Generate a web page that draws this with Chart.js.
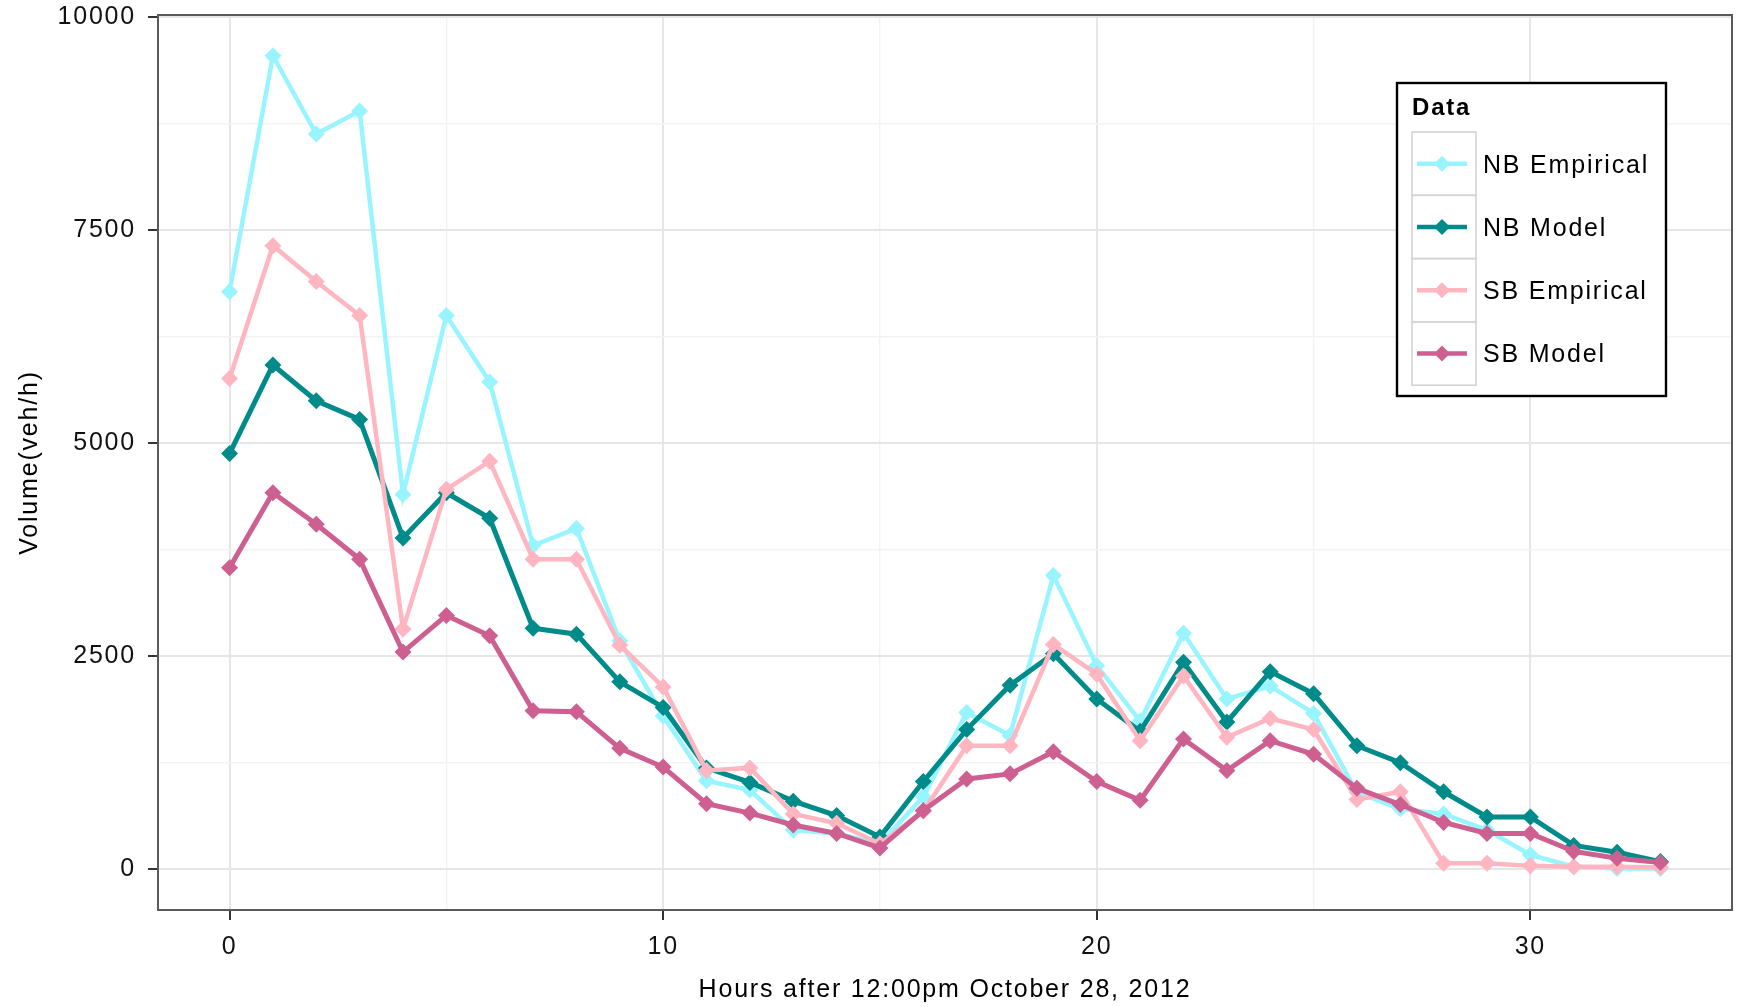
<!DOCTYPE html>
<html>
<head>
<meta charset="utf-8">
<script src="https://cdn.jsdelivr.net/npm/chart.js@4.4.1/dist/chart.umd.min.js"></script>
<style>
  html, body { margin: 0; padding: 0; background: #fff; }
  #wrap { width: 1744px; height: 1007px; }
</style>
</head>
<body>
<div id="wrap"><canvas id="chart" width="1744" height="1007"></canvas></div>
<script>
const hours = [0, 1, 2, 3, 4, 5, 6, 7, 8, 9, 10, 11, 12, 13, 14, 15, 16, 17, 18, 19, 20, 21, 22, 23, 24, 25, 26, 27, 28, 29, 30, 31, 32, 33];

const nbEmpirical = [6780, 9550, 8630, 8900, 4400, 6500, 5720, 3800, 4000, 2680, 1800, 1040, 930, 460, 420, 300, 850, 1840, 1570, 3450, 2390, 1740, 2770, 2000, 2150, 1830, 900, 710, 650, 460, 170, 30, 10, 10];
const nbModel = [4880, 5920, 5500, 5280, 3890, 4420, 4120, 2830, 2760, 2200, 1900, 1190, 1020, 800, 630, 380, 1030, 1640, 2160, 2530, 2000, 1620, 2430, 1730, 2320, 2060, 1450, 1250, 910, 615, 615, 280, 200, 90];
const sbEmpirical = [5760, 7320, 6900, 6500, 2820, 4460, 4790, 3640, 3640, 2630, 2140, 1160, 1190, 650, 540, 300, 680, 1450, 1450, 2640, 2290, 1510, 2270, 1550, 1770, 1640, 820, 910, 70, 70, 40, 30, 30, 20];
const sbModel = [3540, 4420, 4050, 3640, 2550, 2980, 2740, 1860, 1850, 1420, 1200, 770, 660, 520, 420, 250, 690, 1060, 1120, 1380, 1030, 810, 1530, 1160, 1510, 1350, 950, 760, 550, 420, 420, 210, 130, 80];

const seriesNames = ["NB Empirical", "NB Model", "SB Empirical", "SB Model"];
const seriesColors = ["#98F5FF", "#008B8B", "#FFB6C1", "#CD6090"];

const xGridValues = [0, 5, 10, 15, 20, 25, 30];
const xLabelValues = [0, 10, 20, 30];
const yGridValues = [0, 1250, 2500, 3750, 5000, 6250, 7500, 8750, 10000];
const yLabelValues = [0, 2500, 5000, 7500, 10000];

const FONT = "Liberation Sans, Arial, sans-serif";
const SPACING = "1.8px";

function points(values) {
  return hours.map((h, i) => ({ x: h, y: values[i] }));
}

const allSeries = [nbEmpirical, nbModel, sbEmpirical, sbModel];

const datasets = allSeries.map((vals, i) => ({
  label: seriesNames[i],
  data: points(vals),
  borderColor: seriesColors[i],
  backgroundColor: seriesColors[i],
  borderWidth: i % 2 ? 5 : 4.5,
  pointStyle: "rectRot",
  pointRadius: 8.5,
  pointBorderWidth: 0,
  pointBackgroundColor: seriesColors[i],
  tension: 0,
  order: 4 - i, // later series on top, like ggplot
}));

// letter spacing for the wide R-style text
const spacing = {
  id: "spacing",
  beforeDraw(chart) {
    chart.ctx.letterSpacing = SPACING;
  },
};

// panel border all round
const panelBorder = {
  id: "panelBorder",
  afterDatasetsDraw(chart) {
    const a = chart.chartArea;
    const ctx = chart.ctx;
    ctx.save();
    ctx.strokeStyle = "#5a5a5a";
    ctx.lineWidth = 2;
    ctx.strokeRect(a.left, a.top, a.right - a.left, a.bottom - a.top);
    ctx.restore();
  },
};

// boxed legend like ggplot theme_bw
const boxLegend = {
  id: "boxLegend",
  afterDraw(chart) {
    const ctx = chart.ctx;
    ctx.save();
    ctx.letterSpacing = SPACING;
    ctx.fillStyle = "#fff";
    ctx.fillRect(1397, 83, 269, 313);
    ctx.strokeStyle = "#000";
    ctx.lineWidth = 2.4;
    ctx.strokeRect(1397, 83, 269, 313);

    ctx.fillStyle = "#000";
    ctx.font = "bold 24px " + FONT;
    ctx.textBaseline = "middle";
    ctx.fillText("Data", 1412, 108);

    const rowH = 63.3;
    chart.data.datasets.forEach((ds, i) => {
      const top = 132 + i * rowH;
      const mid = top + rowH / 2;
      ctx.strokeStyle = "#d4d4d4";
      ctx.lineWidth = 1.6;
      ctx.strokeRect(1412, top, 64, rowH);

      ctx.strokeStyle = ds.borderColor;
      ctx.lineWidth = 4.5;
      ctx.beginPath();
      ctx.moveTo(1417, mid);
      ctx.lineTo(1467, mid);
      ctx.stroke();

      ctx.fillStyle = ds.borderColor;
      ctx.beginPath();
      ctx.moveTo(1442 - 8, mid);
      ctx.lineTo(1442, mid - 8);
      ctx.lineTo(1442 + 8, mid);
      ctx.lineTo(1442, mid + 8);
      ctx.closePath();
      ctx.fill();

      ctx.fillStyle = "#000";
      ctx.font = "25px " + FONT;
      ctx.fillText(ds.label, 1483, mid + 2);
    });
    ctx.restore();
  },
};

new Chart(document.getElementById("chart"), {
  type: "line",
  data: { datasets },
  plugins: [spacing, panelBorder, boxLegend],
  options: {
    responsive: false,
    animation: false,
    devicePixelRatio: 1,
    layout: { padding: { top: 15, right: 12, left: 0, bottom: 0 } },
    plugins: {
      legend: { display: false },
      tooltip: { enabled: false },
    },
    scales: {
      x: {
        type: "linear",
        min: -1.65,
        max: 34.65,
        afterBuildTicks: (scale) => {
          scale.ticks = xGridValues.map((v) => ({ value: v }));
        },
        afterFit: (scale) => {
          scale.height = 97;
        },
        border: { display: false },
        grid: {
          color: (c) => (xLabelValues.includes(c.tick.value) ? "#e6e6e6" : "#f3f3f3"),
          lineWidth: (c) => (xLabelValues.includes(c.tick.value) ? 2 : 1.4),
          tickColor: (c) => (xLabelValues.includes(c.tick.value) ? "#333" : "rgba(0,0,0,0)"),
          tickWidth: 2,
          tickLength: 10,
        },
        ticks: {
          autoSkip: false,
          maxRotation: 0,
          padding: 12,
          color: "#111",
          font: { family: FONT, size: 25 },
          callback: (v) => (xLabelValues.includes(v) ? String(v) : ""),
        },
        title: {
          display: true,
          text: "Hours after 12:00pm October 28, 2012",
          color: "#000",
          font: { family: FONT, size: 25 },
          padding: { top: 0, bottom: 2 },
        },
      },
      y: {
        type: "linear",
        min: -478,
        max: 10028,
        afterBuildTicks: (scale) => {
          scale.ticks = yGridValues.map((v) => ({ value: v }));
        },
        afterFit: (scale) => {
          scale.width = 158;
          scale.paddingTop = 0;
          scale.paddingBottom = 0;
        },
        border: { display: false },
        grid: {
          color: (c) => (yLabelValues.includes(c.tick.value) ? "#e6e6e6" : "#f3f3f3"),
          lineWidth: (c) => (yLabelValues.includes(c.tick.value) ? 2 : 1.4),
          tickColor: (c) => (yLabelValues.includes(c.tick.value) ? "#333" : "rgba(0,0,0,0)"),
          tickWidth: 2,
          tickLength: 10,
        },
        ticks: {
          autoSkip: false,
          padding: 12,
          color: "#111",
          font: { family: FONT, size: 25 },
          callback: (v) => (yLabelValues.includes(v) ? String(v) : ""),
        },
        title: {
          display: true,
          text: "Volume(veh/h)",
          color: "#000",
          font: { family: FONT, size: 25 },
          padding: { top: 15, bottom: 0 },
        },
      },
    },
  },
});
</script>
</body>
</html>
